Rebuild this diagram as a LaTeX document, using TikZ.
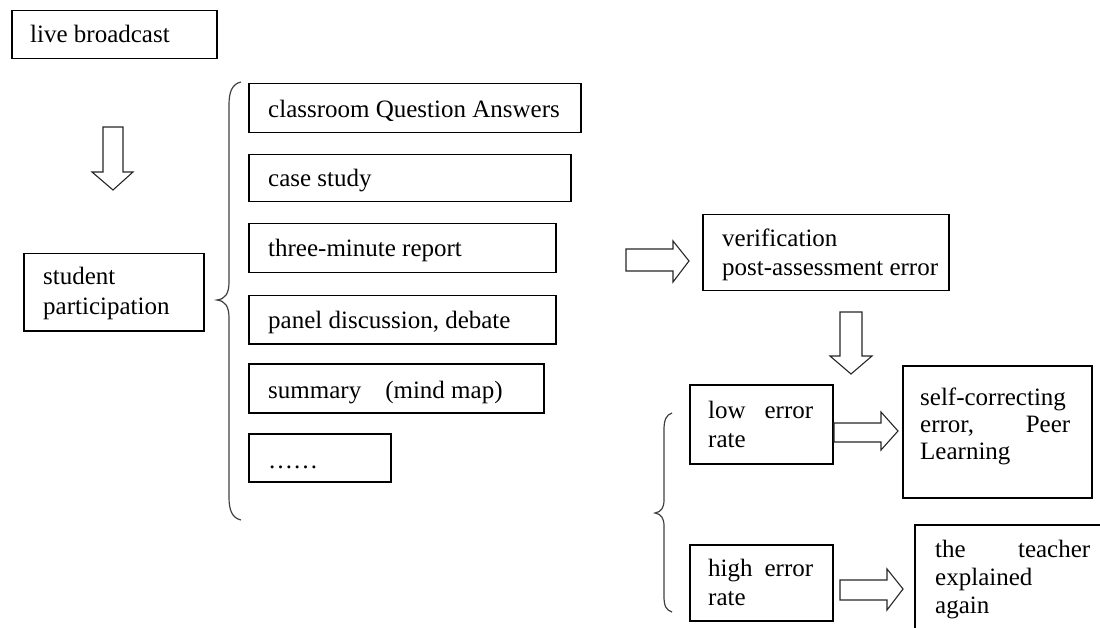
\documentclass[tikz,border=0pt]{standalone}
\usepackage{fontspec}
\setmainfont{Liberation Serif}
\begin{document}
\begin{tikzpicture}[x=1pt,y=-1pt,
  box/.style={draw=black,line width=1.5pt,rectangle,inner sep=0pt,anchor=north west},
  txt/.style={inner sep=0pt,anchor=base west,align=left,font=\fontsize{25}{29}\selectfont,text=black},
  blockarrow/.style={draw=black!85,line width=1.1pt,fill=white,line join=miter},
  bracepath/.style={draw=black!75,line width=1.2pt}]
\useasboundingbox (0,0) rectangle (1100,628);
% boxes
\node[box,minimum width=205pt,minimum height=48pt] (live) at (11,10) {};
\node[box,minimum width=180pt,minimum height=77pt] (stud) at (23,253) {};
\node[box,minimum width=332pt,minimum height=49pt] (b1) at (248,83) {};
\node[box,minimum width=322pt,minimum height=47pt] (b2) at (248,154) {};
\node[box,minimum width=307pt,minimum height=49pt] (b3) at (248,223) {};
\node[box,minimum width=307pt,minimum height=48pt] (b4) at (248,295) {};
\node[box,minimum width=295pt,minimum height=49pt] (b5) at (248,363) {};
\node[box,minimum width=142pt,minimum height=48pt] (b6) at (248,433) {};
\node[box,minimum width=246pt,minimum height=76pt] (ver) at (702,214) {};
\node[box,minimum width=143pt,minimum height=79pt] (low) at (689,384) {};
\node[box,minimum width=189pt,minimum height=132pt] (self) at (902,365) {};
\node[box,minimum width=143pt,minimum height=76pt] (high) at (689,544) {};
\node[box,minimum width=200pt,minimum height=120pt] (teach) at (914,524) {};
% texts (multi-line nodes: base = last line)
\node[txt] (tlive) at (30,43) {live broadcast};
\node[txt] (tstud) at (43,314) {student\\participation};
\node[txt] (t1) at (268,118) {classroom Question Answers};
\node[txt] (t2) at (268,187) {case study};
\node[txt] (t3) at (268,257) {three-minute report};
\node[txt] (t4) at (268,328) {panel discussion, debate};
\node[txt] (t5) at (268,398) {summary\hspace{24pt}(mind map)};
\node[txt] (t6) at (268,468) {……};
\node[txt] (tver) at (722,276) {verification\\post-assessment error};
\node[txt] (tlow) at (708,447) {\hbox to 105pt{low\hfill error}\\rate};
\node[txt,font=\fontsize{25}{27}\selectfont] (tself) at (920,459) {\hbox to 150pt{self-correcting}\\\hbox to 150pt{error,\hfill Peer}\\Learning};
\node[txt] (thigh) at (708,605) {\hbox to 105pt{high\hfill error}\\rate};
\node[txt,font=\fontsize{25}{28}\selectfont] (tteach) at (935,613) {\hbox to 155pt{the\hfill teacher}\\explained\\again};
% block arrows
\draw[blockarrow] (103,127) -- (123,127) -- (123,172) -- (133,172) -- (113,190) -- (92,172) -- (103,172) -- cycle;
\draw[blockarrow] (626,249) -- (673,249) -- (673,241) -- (689,261) -- (673,282) -- (673,271) -- (626,271) -- cycle;
\draw[blockarrow] (840,312) -- (862,312) -- (862,356) -- (872,356) -- (851,374) -- (830,356) -- (840,356) -- cycle;
\draw[blockarrow] (834,423) -- (881,423) -- (881,412) -- (898,431) -- (881,450) -- (881,442) -- (834,442) -- cycle;
\draw[blockarrow] (840,580) -- (887,580) -- (887,569) -- (903,589) -- (887,610) -- (887,600) -- (840,600) -- cycle;
% braces
\draw[bracepath] (241,82) .. controls (232,84) and (229,92) .. (229,105) -- (229,282)
  .. controls (229,294) and (225,299) .. (217,300) .. controls (225,301) and (229,306) .. (229,318)
  -- (229,497) .. controls (229,510) and (232,518) .. (241,520);
\draw[bracepath] (672,413) .. controls (666,415) and (664,420) .. (664,430) -- (664,500)
  .. controls (664,508) and (661,512) .. (655,513) .. controls (661,514) and (664,518) .. (664,526)
  -- (664,596) .. controls (664,606) and (666,610) .. (672,612);
\end{tikzpicture}
\end{document}
